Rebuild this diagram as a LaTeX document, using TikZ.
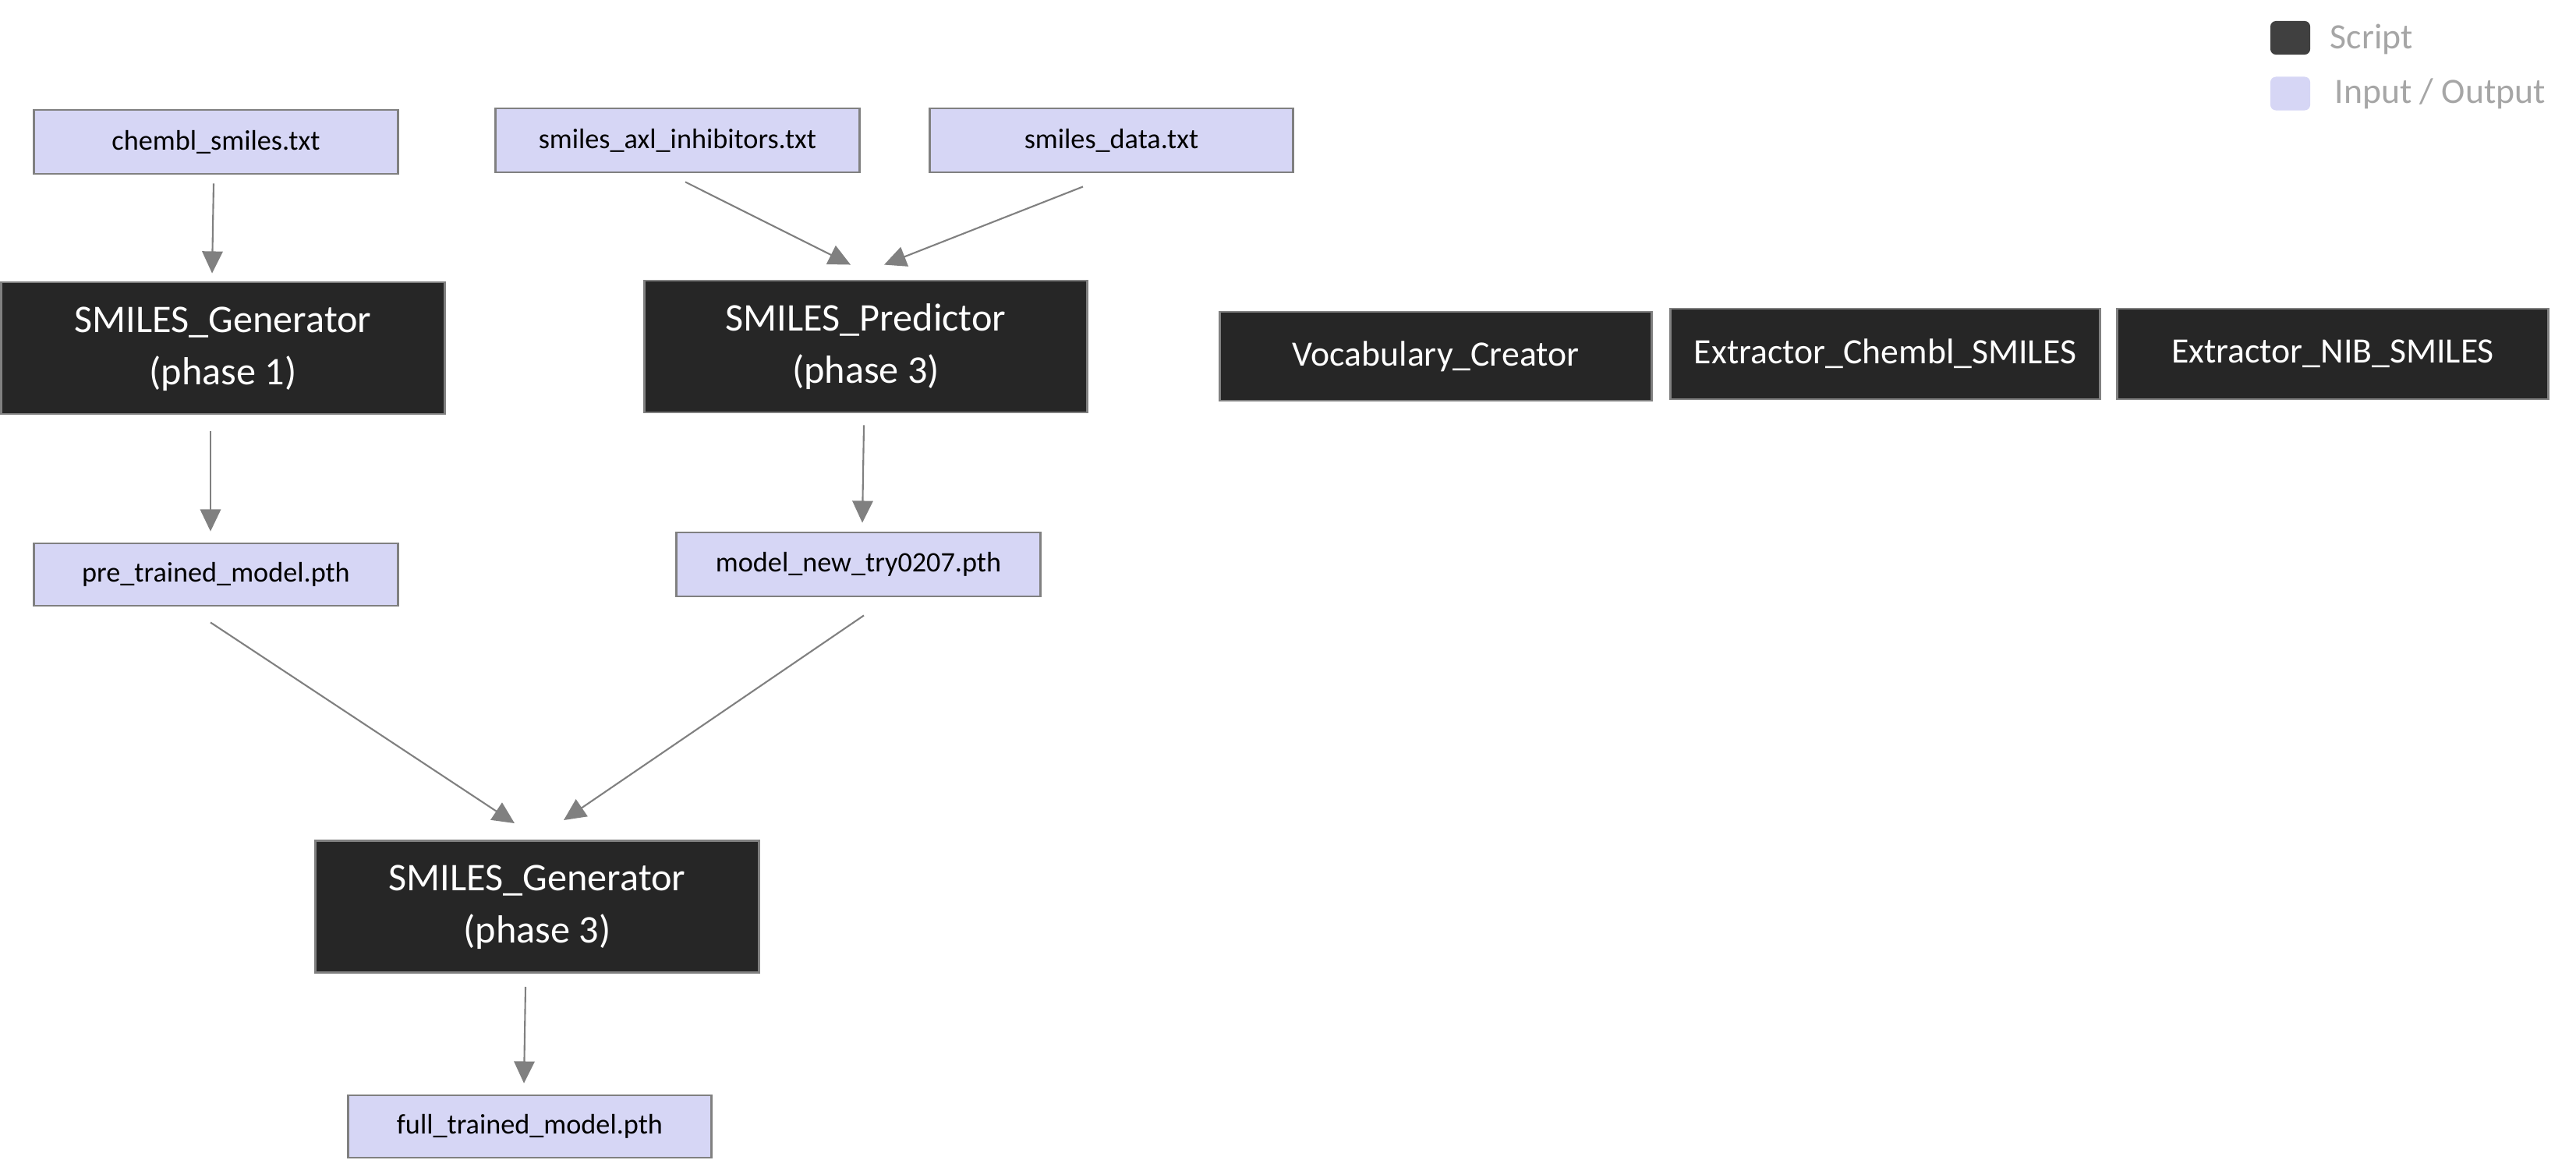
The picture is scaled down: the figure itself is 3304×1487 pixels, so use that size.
\documentclass[tikz,border=0pt]{standalone}
\usepackage{fontspec}
\setmainfont{Carlito}
\usetikzlibrary{arrows.meta,calc}
\definecolor{scriptfill}{HTML}{262626}
\definecolor{iofill}{HTML}{D6D6F5}
\definecolor{edgegray}{HTML}{808080}
\definecolor{legscript}{HTML}{404040}
\definecolor{legtext}{HTML}{A6A6A6}
\newcommand{\twoline}[2]{\raisebox{-1.2pt}{\begin{tabular}{@{}c@{}}#1\\#2\end{tabular}}}
\newcommand{\iotext}[1]{\raisebox{-1pt}{#1}}
\begin{document}
\begin{tikzpicture}[x=0.01cm,y=-0.01cm,
  iobox/.style={draw=edgegray,line width=0.8pt,fill=iofill,inner sep=0pt,align=center,
    font=\fontsize{10.3}{13}\selectfont,text=black},
  scriptbox/.style={draw=edgegray,line width=0.8pt,fill=scriptfill,inner sep=0pt,align=center,
    text=white,font=\fontsize{14.3}{19}\selectfont,minimum width=5.68cm,minimum height=1.69cm},
  toolbox/.style={draw=edgegray,line width=0.8pt,fill=scriptfill,inner sep=0pt,align=center,
    text=white,font=\fontsize{13}{16}\selectfont,minimum height=1.15cm},
  flow/.style={draw=edgegray,line width=0.6pt,-{Triangle[length=8pt,width=7.5pt]},color=edgegray},
  legsq/.style={rounded corners=2pt,minimum width=0.51cm,minimum height=0.43cm,inner sep=0pt},
  legtx/.style={text=legtext,anchor=west,inner sep=0pt,font=\fontsize{13}{16}\selectfont}]
\useasboundingbox (0,0) rectangle (3304,1487);
% input/output boxes
\node[iobox,minimum width=4.66cm,minimum height=0.82cm] (chembl) at (277,182) {\iotext{chembl\_smiles.txt}};
\node[iobox,minimum width=4.66cm,minimum height=0.82cm] (axl) at (869,180) {\iotext{smiles\_axl\_inhibitors.txt}};
\node[iobox,minimum width=4.65cm,minimum height=0.82cm] (data) at (1425.5,180) {\iotext{smiles\_data.txt}};
\node[iobox,minimum width=4.66cm,minimum height=0.80cm] (pretrained) at (277,737) {\iotext{pre\_trained\_model.pth}};
\node[iobox,minimum width=4.66cm,minimum height=0.82cm] (modelnew) at (1101,724) {\iotext{model\_new\_try0207.pth}};
\node[iobox,minimum width=4.65cm,minimum height=0.80cm] (full) at (679.5,1445) {\iotext{full\_trained\_model.pth}};
% script boxes
\node[scriptbox] (gen1) at (286,446.5) {\twoline{SMILES\_Generator}{(phase 1)}};
\node[scriptbox] (pred) at (1110.5,444.5) {\twoline{SMILES\_Predictor}{(phase 3)}};
\node[scriptbox] (gen3) at (689,1163) {\twoline{SMILES\_Generator}{(phase 3)}};
\node[toolbox,minimum width=5.53cm,minimum height=1.14cm] (vocab) at (1841.5,457) {Vocabulary\_Creator};
\node[toolbox,minimum width=5.50cm,minimum height=1.16cm] (exchembl) at (2418,454) {Extractor\_Chembl\_SMILES};
\node[toolbox,minimum width=5.52cm,minimum height=1.16cm] (exnib) at (2992,454) {Extractor\_NIB\_SMILES};
% connectors
\draw[flow] ($(chembl.south)+(-3,11)$) -- ($(gen1.north)+(-14,-10)$);
\draw[flow] ($(axl.south)+(10,11)$) -- ($(pred.north)+(-19.5,-19)$);
\draw[flow] ($(data.south)+(-36.5,17)$) -- ($(pred.north)+(23.5,-19)$);
\draw[flow] ($(gen1.south)+(-16,21)$) -- ($(pretrained.north)+(-7,-14)$);
\draw[flow] ($(pred.south)+(-2.5,15)$) -- ($(modelnew.north)+(5,-11)$);
\draw[flow] ($(pretrained.south)+(-7,20)$) -- ($(gen3.north)+(-29,-21)$);
\draw[flow] ($(modelnew.south)+(7,23)$) -- ($(gen3.north)+(34,-25)$);
\draw[flow] ($(gen3.south)+(-15,17)$) -- ($(full.north)+(-7.5,-14)$);
% legend
\node[legsq,fill=legscript] (legs) at (2937.5,48.5) {};
\node[legsq,fill=iofill] (legio) at (2937.5,120) {};
\node[legtx] (legstext) at (2988,50) {Script};
\node[legtx] (legiotext) at (2994,120) {Input / Output};
\end{tikzpicture}
\end{document}
